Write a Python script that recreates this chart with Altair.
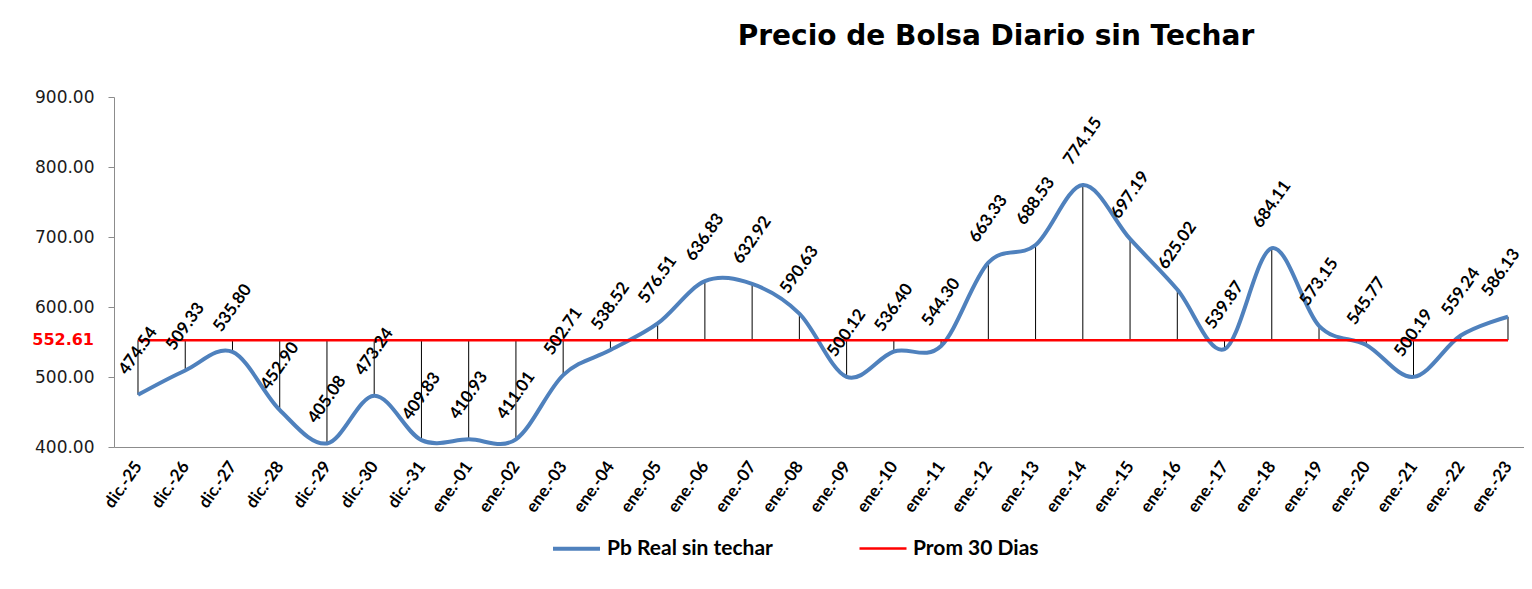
import json
import altair as alt
import pandas as pd

# ---- data ----
dates = ["dic.-25", "dic.-26", "dic.-27", "dic.-28", "dic.-29", "dic.-30", "dic.-31",
         "ene.-01", "ene.-02", "ene.-03", "ene.-04", "ene.-05", "ene.-06", "ene.-07",
         "ene.-08", "ene.-09", "ene.-10", "ene.-11", "ene.-12", "ene.-13", "ene.-14",
         "ene.-15", "ene.-16", "ene.-17", "ene.-18", "ene.-19", "ene.-20", "ene.-21",
         "ene.-22", "ene.-23"]
values = [474.54, 509.33, 535.80, 452.90, 405.08, 473.24, 409.83, 410.93, 411.01, 502.71,
          538.52, 576.51, 636.83, 632.92, 590.63, 500.12, 536.40, 544.30, 663.33, 688.53,
          774.15, 697.19, 625.02, 539.87, 684.11, 573.15, 545.77, 500.19, 559.24, 586.13]
avg_value = 552.61
series_names = ["Pb Real sin techar", "Prom 30 Dias"]
series_colors = ["#4F81BD", "#FF0000"]
series_widths = [4, 2.5]
y_ticks = [400, 500, 600, 700, 800, 900]
title_text = "Precio de Bolsa Diario sin Techar"

idx = list(range(len(dates)))
last_i = idx[-1]
pts = pd.DataFrame({"i": idx, "fecha": dates, "valor": values,
                    "prom": [avg_value] * len(dates)})
long = pd.concat([
    pd.DataFrame({"i": idx, "serie": series_names[0], "valor": values}),
    pd.DataFrame({"i": idx, "serie": series_names[1], "valor": [avg_value] * len(dates)}),
], ignore_index=True)
avg_df = pd.DataFrame({"prom": [avg_value]})
title_df = pd.DataFrame({"t": [title_text]})

label_expr = "%s[datum.value]" % json.dumps(dates)

x_scale = alt.Scale(domain=[-0.508, 29.339], nice=False, zero=False)
y_scale = alt.Scale(domain=[400, 900], nice=False, zero=False)

x_axis = alt.Axis(values=idx, labelExpr=label_expr, title=None, grid=False, ticks=False,
                  labelAngle=-55, labelAlign="right", labelBaseline="middle",
                  labelPadding=16, labelFont="Lato", labelFontWeight="bold",
                  labelFontSize=17, labelColor="#000000", domainColor="#8c8c8c",
                  labelOverlap=False, labelBound=False, labelFlush=False)
y_axis = alt.Axis(values=y_ticks, format=".2f", title=None, grid=False, tickSize=6,
                  tickColor="#8c8c8c", domainColor="#8c8c8c", labelPadding=14,
                  labelFont="DejaVu Sans", labelFontSize=17, labelColor="#1a1a1a")

x_enc = alt.X("i:Q", scale=x_scale, axis=x_axis)
y_enc = alt.Y("valor:Q", scale=y_scale, axis=y_axis)

drops = alt.Chart(pts).mark_rule(color="black", strokeWidth=1).encode(
    x=x_enc, y=y_enc, y2="prom:Q")

lines = alt.Chart(long).mark_line(interpolate="cardinal").encode(
    x=alt.X("i:Q", scale=x_scale),
    y=alt.Y("valor:Q", scale=y_scale),
    color=alt.Color("serie:N",
                    scale=alt.Scale(domain=series_names, range=series_colors),
                    legend=alt.Legend(title=None, orient="none", legendX=437, legendY=426,
                                      direction="horizontal", symbolType="stroke",
                                      symbolSize=2209, symbolStrokeWidth=4,
                                      labelFont="Lato", labelFontWeight="bold",
                                      labelFontSize=21, labelColor="#000000",
                                      labelLimit=0, labelOffset=5, columnPadding=81)),
    strokeWidth=alt.StrokeWidth("serie:N",
                                scale=alt.Scale(domain=series_names, range=series_widths),
                                legend=None),
)

label_style = dict(angle=305, align="center", baseline="middle", font="Lato",
                   fontWeight="bold", fontSize=17, color="#000000")
label_enc = dict(x=alt.X("i:Q", scale=x_scale), y=alt.Y("valor:Q", scale=y_scale),
                 text=alt.Text("valor:Q", format=".2f"))

labels = alt.Chart(pts).transform_filter(alt.datum.i < last_i).mark_text(
    dx=36, dy=-25, **label_style).encode(**label_enc)
# last label nudged slightly left so it stays inside the page
last_label = alt.Chart(pts).transform_filter(alt.datum.i == last_i).mark_text(
    dx=32, dy=-31, **label_style).encode(**label_enc)

avg_label = alt.Chart(avg_df).mark_text(align="right", baseline="middle", font="DejaVu Sans",
                                        fontWeight="bold", fontSize=16,
                                        color="#FF0000").encode(
    x=alt.value(-20),
    y=alt.Y("prom:Q", scale=y_scale),
    text=alt.Text("prom:Q", format=".2f"))

title = alt.Chart(title_df).mark_text(align="center", baseline="alphabetic",
                                      font="DejaVu Sans", fontSize=28, fontWeight="bold",
                                      color="#000000").encode(
    x=alt.value(882), y=alt.value(-52), text="t:N")

chart = alt.layer(drops, lines, labels, last_label, avg_label, title).properties(
    width=1410, height=350,
    autosize=alt.AutoSizeParams(type="none"),
    padding={"left": 106, "top": 89, "right": 0, "bottom": 126},
    background="white",
).configure_view(stroke=None)

chart.save("out.html", embed_options={"renderer": "svg", "actions": False})
